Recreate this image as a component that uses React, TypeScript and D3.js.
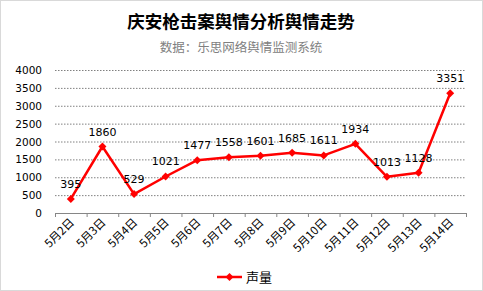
import React from "react";
import * as d3 from "d3";

const categories = ["5月2日","5月3日","5月4日","5月5日","5月6日","5月7日","5月8日","5月9日","5月10日","5月11日","5月12日","5月13日","5月14日"];
const values = [395,1860,529,1021,1477,1558,1601,1685,1611,1934,1013,1128,3351];
const yTicks = [0,500,1000,1500,2000,2500,3000,3500,4000];
const seriesName = "声量";
const title = "庆安枪击案舆情分析舆情走势";
const subtitle = "数据：乐思网络舆情监测系统";

const W = 483, H = 291;
const left = 55, right = 466, top = 70, bottom = 213;

export default function App() {
  const x = d3.scaleBand<string>().domain(categories).range([left, right]);
  const y = d3.scaleLinear().domain([0, 4000]).range([bottom, top]);
  const line = d3.line<number>()
    .x((_, i) => (x(categories[i]) as number) + x.bandwidth() / 2)
    .y(d => y(d));
  const tickXs = categories.map(c => x(c) as number).concat([right]);
  const font = "'DejaVu Sans', Verdana, sans-serif";
  const cjk = "'Noto Sans CJK SC', sans-serif";
  const diamond = (cx: number, cy: number, r: number) =>
    `M${cx},${cy - r}L${cx + r},${cy}L${cx},${cy + r}L${cx - r},${cy}Z`;
  return (
    <svg width={W} height={H} style={{ position: "absolute", left: 0, top: 0, background: "#fff" }}>
      <rect x={0.5} y={0.5} width={W - 1} height={H - 1} fill="#fff" stroke="#d9d9d9" />
      <text x={241} y={28} textAnchor="middle" fontFamily={cjk} fontWeight="bold" fontSize={17.5} fill="#000">{title}</text>
      <text x={241} y={52} textAnchor="middle" fontFamily={cjk} fontSize={12.5} fill="#808080">{subtitle}</text>
      {yTicks.map(t => (
        <g key={t}>
          {t > 0 && <line x1={left} x2={right} y1={y(t) + 0.5} y2={y(t) + 0.5} stroke="#808080" strokeDasharray="1.5,1.5" />}
          <text x={42} y={y(t) + 4} textAnchor="end" fontFamily={font} fontSize={10.5} fill="#000">{t}</text>
        </g>
      ))}
      <line x1={left} x2={right} y1={bottom + 0.5} y2={bottom + 0.5} stroke="#868686" />
      {tickXs.map((tx, i) => (
        <line key={i} x1={tx + 0.5} x2={tx + 0.5} y1={bottom} y2={bottom + 4} stroke="#868686" />
      ))}
      {categories.map(c => {
        const cx = (x(c) as number) + x.bandwidth() / 2 + 4;
        return (
          <text key={c} transform={`translate(${cx},${bottom + 10}) rotate(-45)`} textAnchor="end" fontFamily={cjk} fontSize={11.5} fill="#000">{c}</text>
        );
      })}
      <path d={line(values) || ""} fill="none" stroke="#ff0000" strokeWidth={2.5} strokeLinejoin="round" />
      {values.map((v, i) => {
        const cx = (x(categories[i]) as number) + x.bandwidth() / 2;
        const cy = y(v);
        return (
          <g key={i}>
            <path d={diamond(cx, cy, 4)} fill="#ff0000" />
            <text x={cx} y={cy - 11} textAnchor="middle" fontFamily={font} fontSize={11} fill="#000">{v}</text>
          </g>
        );
      })}
      <line x1={217} x2={242} y1={277} y2={277} stroke="#ff0000" strokeWidth={2.5} />
      <path d={diamond(229.5, 277, 4)} fill="#ff0000" />
      <text x={246} y={282} fontFamily={cjk} fontSize={13} fill="#000">{seriesName}</text>
    </svg>
  );
}
